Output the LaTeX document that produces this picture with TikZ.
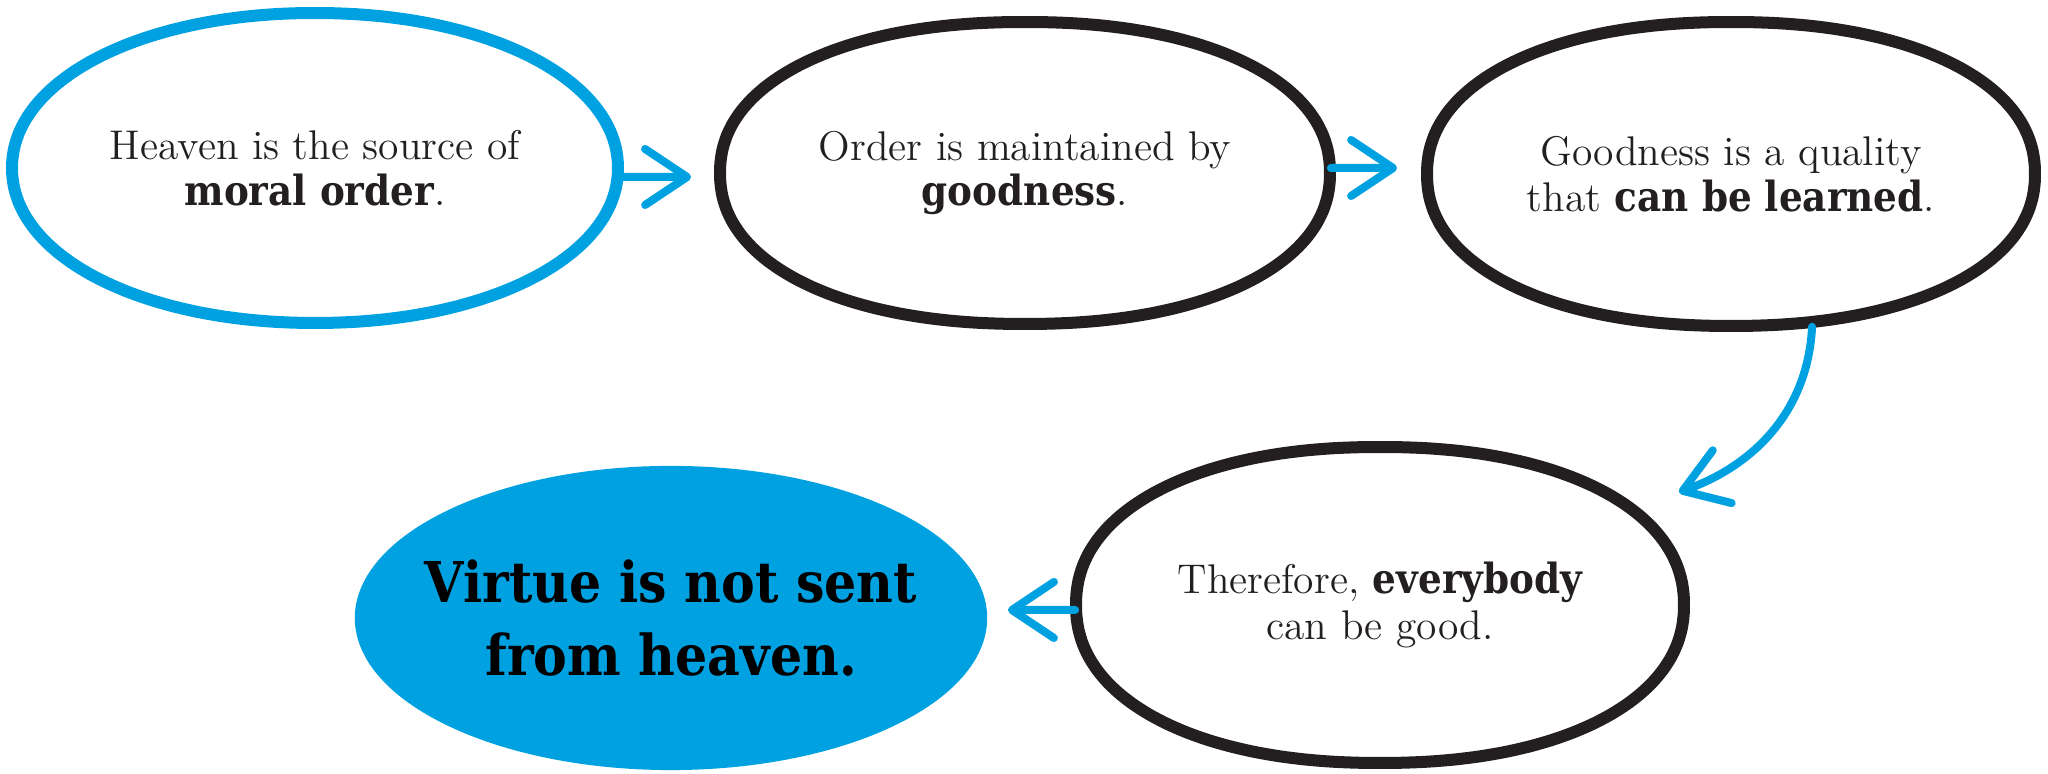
\documentclass[tikz,border=0pt]{standalone}
\usepackage{fontspec}
\usepackage{xcolor}
\usepackage{tikz}
\newfontfamily\heavy{DejaVu Serif}[FakeStretch=0.9]
\usetikzlibrary{calc}
\usetikzlibrary{arrows.meta, backgrounds}

\definecolor{skyblue}{HTML}{00A1E1}
\definecolor{inkblack}{HTML}{231F20}

\newcommand\hv[1]{{\heavy\bfseries #1}}
% hand drawn oval round a node: name, x radius, y radius, power, style
\newcommand\sketchoval[5]{%
  \draw[#5, shift={(#1.center)}] plot[smooth cycle, domain=2.5:357.5, samples=72]
    ({#2*cos(\x)*abs(cos(\x))^(#4)}, {#3*sin(\x)*abs(sin(\x))^(#4)});}

\tikzset{
  idea/.style={inner sep=0pt, align=center, text=inkblack,
               font=\fontsize{11.8}{13}\selectfont},
  verdict/.style={inner sep=0pt, align=center, text=black,
               font=\heavy\bfseries\fontsize{16}{20.8}\selectfont},
  pen/.style={draw=inkblack, line width=0.12cm, line join=round},
  bluepen/.style={pen, draw=skyblue},
  link/.style={draw=skyblue, line width=0.08cm, line cap=round,
               -{Straight Barb[length=4.2mm, width=5.6mm, round]}}
}

\begin{document}
\begin{tikzpicture}[x=0.01cm, y=-0.01cm]

  \useasboundingbox (0,0) rectangle (2048,774);

  \node[idea, minimum width=6.06cm, minimum height=3.10cm] (e1) at (315,168)
       {Heaven is the source of\\\hv{moral order}.};
  \node[idea, minimum width=6.10cm, minimum height=3.02cm] (e2) at (1025,173)
       {Order is maintained by\\\hv{goodness}.};
  \node[idea, minimum width=6.08cm, minimum height=3.04cm] (e3) at (1731,174)
       {Goodness is a quality\\that \hv{can be learned}.};
  \node[idea, minimum width=6.08cm, minimum height=3.16cm] (e4) at (1380,605)
       {Therefore, \hv{everybody}\\can be good.};
  \node[verdict, minimum width=6.32cm, minimum height=3.04cm] (e5) at (671,618)
       {Virtue is not sent\\from heaven.};

  \begin{scope}[on background layer]
    \fill[skyblue] (e5.center) ellipse [x radius=3.16cm, y radius=1.52cm];
  \end{scope}

  \sketchoval{e1}{303}{155}{-0.03}{bluepen}
  \sketchoval{e2}{305}{151}{-0.08}{pen}
  \sketchoval{e3}{304}{152}{-0.08}{pen}
  \sketchoval{e4}{304}{158}{-0.08}{pen}

  \draw[link, shorten >=0.28cm] ([yshift=-0.09cm]e1.east) -- ([yshift=-0.04cm]e2.west);
  \draw[link, shorten >=0.29cm] ([yshift=0.05cm]e2.east) -- ([yshift=0.06cm]e3.west);
  \draw[link] ([xshift=0.81cm]e3.south) .. controls (1808,410) and (1755,465)
        .. ($(e4.north east)+(-6,46)$);
  \draw[link, shorten >=0.2cm] ([yshift=-0.05cm]e4.west) -- ([yshift=0.08cm]e5.east);

\end{tikzpicture}
\end{document}
